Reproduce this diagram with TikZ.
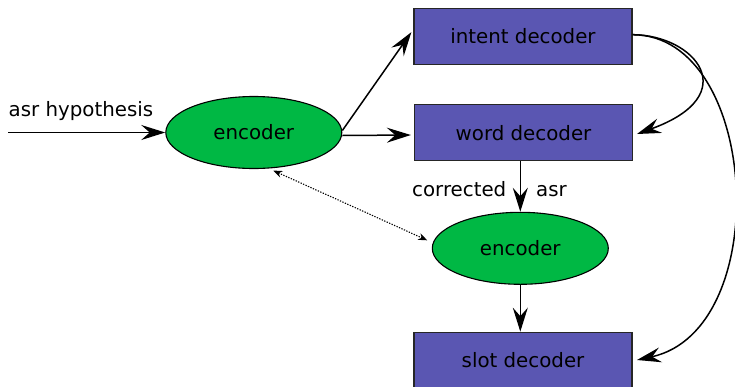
\documentclass[tikz,border=0pt]{standalone}
\usepackage{fontspec}
\setmainfont{DejaVu Sans}
\usetikzlibrary{arrows.meta,shapes.geometric}
\definecolor{boxblue}{RGB}{90,86,178}
\definecolor{encgreen}{RGB}{0,184,68}
\begin{document}
\begin{tikzpicture}[x=1pt,y=-1pt,
  font=\fontsize{19.8}{23}\selectfont,
  decoder/.style={draw=black!85,line width=1.3pt,fill=boxblue,
    minimum width=218pt,minimum height=56pt,inner sep=0pt},
  encoder/.style={draw=black,line width=1.1pt,fill=encgreen,ellipse,
    minimum width=176pt,minimum height=72pt,inner sep=0pt},
  flow/.style={line width=1.5pt,-{Stealth[length=24pt,width=15pt,inset=8.5pt]}},
  link/.style={line width=1.1pt,dash pattern=on 1.3pt off 1.4pt,
    {Stealth[length=9pt,width=7pt]}-{Stealth[length=9pt,width=7pt]}},
  lbl/.style={inner sep=0pt}]
\useasboundingbox (0,0) rectangle (735,386);

% blocks
\node[decoder] (intent) at (523,36.2) {intent decoder};
\node[decoder] (word)   at (523.5,132.7) {word decoder};
\node[decoder] (slot)   at (523,360.3) {slot decoder};
\node[encoder] (enc1)   at (253.8,132.5) {encoder};
\node[encoder] (enc2)   at (520.3,248.3) {encoder};

% input
\coordinate (src) at (8,132.5);
\node[lbl,anchor=base west] (hyp) at (8.5,116.5) {asr hypothesis};
\draw[flow] (src) -- (enc1.west);

% first encoder to the decoders
\draw[flow] ([yshift=2pt]enc1.east) -- ([shift={(-2pt,4pt)}]intent.west);
\draw[flow] ([yshift=-3pt]enc1.east) -- ([shift={(-3pt,-2.3pt)}]word.west);

% word decoder output fed to the second encoder
\draw[flow] (enc2.north |- word.south) -- (enc2.north);
\node[lbl,anchor=base east] (corr) at (506.5,196) {corrected};
\node[lbl,anchor=base west] (asr) at (536,196) {asr};

% second encoder to slot decoder
\draw[flow] (enc2.south) -- (enc2.south |- slot.north);

% shared encoder link
\draw[link] ([shift={(19.5pt,-1.5pt)}]enc1.south) -- ([shift={(-4.5pt,8pt)}]enc2.west);

% intent decoder feedback
\coordinate (wtip) at (637,134);
\coordinate (stip) at (637,360);
\draw[flow] ([yshift=1.5pt]intent.east) .. controls (695,35) and (745,95) .. (wtip);
\draw[flow] ([yshift=1.5pt]intent.east) .. controls (760,35) and (775,330) .. (stip);
\end{tikzpicture}
\end{document}
